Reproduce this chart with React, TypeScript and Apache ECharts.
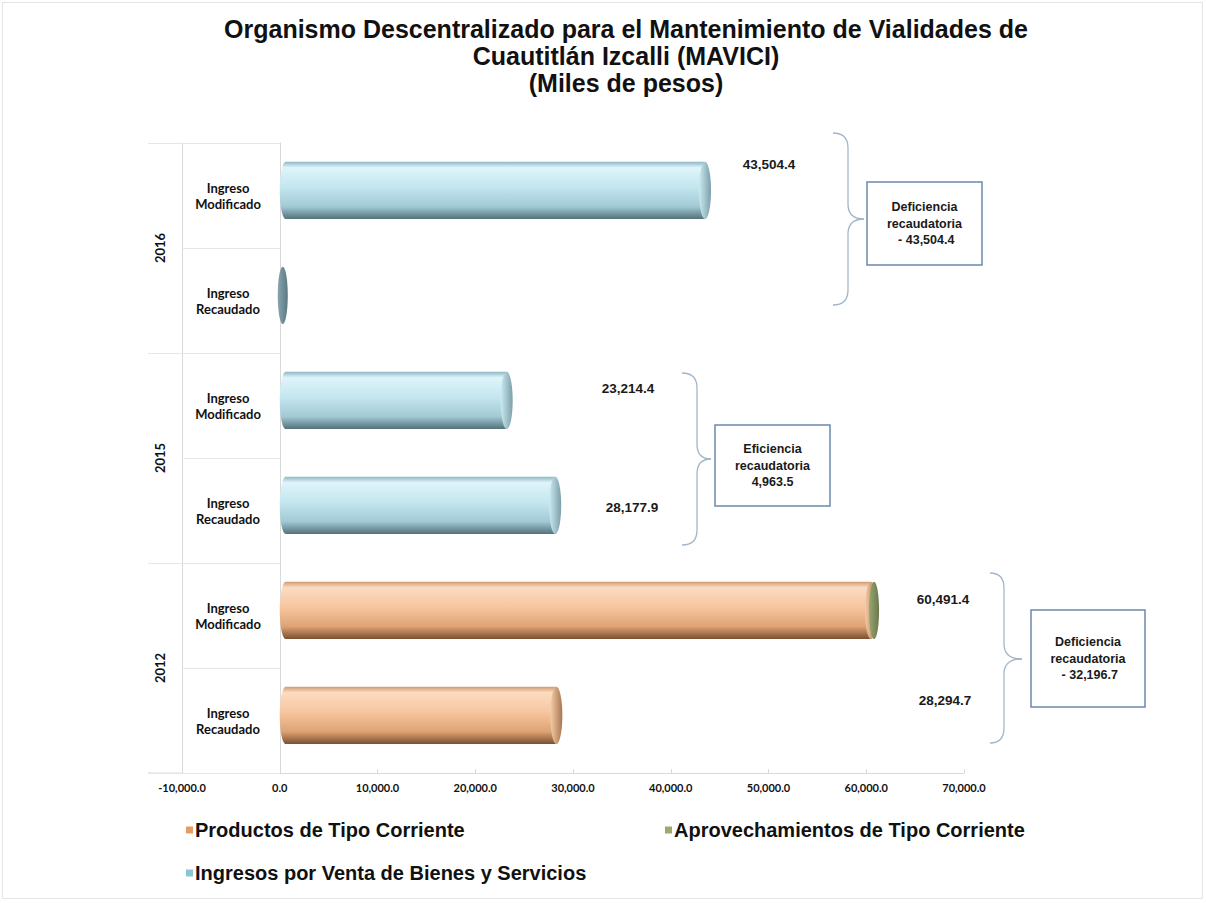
import React, { useEffect, useRef } from 'react';
import * as echarts from 'echarts';

// ---------- data ----------
const categories = [
  '2016 Ingreso Modificado',
  '2016 Ingreso Recaudado',
  '2015 Ingreso Modificado',
  '2015 Ingreso Recaudado',
  '2012 Ingreso Modificado',
  '2012 Ingreso Recaudado',
];
const conceptLabels = [
  'Ingreso\nModificado',
  'Ingreso\nRecaudado',
  'Ingreso\nModificado',
  'Ingreso\nRecaudado',
  'Ingreso\nModificado',
  'Ingreso\nRecaudado',
];
const years = ['2016', '2015', '2012'];
const seriesNames = [
  'Productos de Tipo Corriente',
  'Aprovechamientos de Tipo Corriente',
  'Ingresos por Venta de Bienes y Servicios',
];
const productos: (number | null)[] = [null, null, null, null, 60491.4, 28294.7];
const aprovechamientos: (number | null)[] = [null, null, null, null, 0, null];
const ingresos: (number | null)[] = [43504.4, 0, 23214.4, 28177.9, null, null];
const xMin = -10000;
const xMax = 70000;
const xInterval = 10000;
const titleText =
  'Organismo Descentralizado para el Mantenimiento de Vialidades de\nCuautitlán Izcalli (MAVICI)\n(Miles de pesos)';

// ---------- layout (annotations) ----------
const ARIAL = "'Liberation Sans', Arial, sans-serif";
const CALIBRI = "Lato, 'Open Sans', sans-serif";

const valueLabelPos = [
  { cat: 0, x: 769, y: 164 },
  { cat: 2, x: 628, y: 388 },
  { cat: 3, x: 632, y: 507 },
  { cat: 4, x: 943, y: 599 },
  { cat: 5, x: 945, y: 700 },
];
const braceLayout = [
  { year: 0, x0: 833, xv: 848, xt: 864, y0: 133, ym: 219, y1: 305 },
  { year: 1, x0: 682, xv: 697, xt: 711, y0: 373, ym: 459, y1: 545 },
  { year: 2, x0: 990, xv: 1004, xt: 1022, y0: 573, ym: 659, y1: 743 },
];
const boxLayout = [
  { year: 0, x: 867, y: 182, w: 115, h: 83 },
  { year: 1, x: 715, y: 425, w: 115, h: 81 },
  { year: 2, x: 1031, y: 610, w: 114, h: 97 },
];

const fmt = (v: number) =>
  v.toLocaleString('en-US', { minimumFractionDigits: 1, maximumFractionDigits: 1 });

const allSeries = [productos, aprovechamientos, ingresos];
const totals = categories.map((_, i) =>
  allSeries.reduce((s, arr) => s + (arr[i] ?? 0), 0)
);

const palettes = [
  {
    legend: '#E39E68',
    body: [[0, '#D39C72'], [0.1, '#FBDCC1'], [0.45, '#F6C59E'], [0.78, '#DEA373'], [1, '#7A4F30']],
    cap: ['#F4CBA8', '#A9774F'],
    disc: ['#F0C29C', '#B07A50'],
  },
  {
    legend: '#9CAA6C',
    body: [[0, '#9AA872'], [0.1, '#D6E0B8'], [0.45, '#B8C690'], [0.78, '#9AA870'], [1, '#5E6A40']],
    cap: ['#9DAA74', '#6C7A50'],
    disc: ['#98A66E', '#6A7850'],
  },
  {
    legend: '#8DC3D2',
    body: [[0, '#8FB9C5'], [0.1, '#DFF4FA'], [0.45, '#C3E6EF'], [0.78, '#A2CAD5'], [1, '#53717B']],
    cap: ['#CBEAF1', '#7C9FAA'],
    disc: ['#88A5AF', '#5C7882'],
  },
];

const stops = (arr: any[]) => arr.map(([o, c]) => ({ offset: o, color: c }));

function buildSeriesData(k: number) {
  const out: number[][] = [];
  categories.forEach((_, i) => {
    const v = allSeries[k][i];
    if (v === null || v === undefined) return;
    let start = 0;
    for (let j = 0; j < k; j++) start += allSeries[j][i] ?? 0;
    out.push([i, start, start + v]);
  });
  return out;
}

function makeRender(k: number) {
  const pal = palettes[k];
  return (params: any, api: any) => {
    const cat = api.value(0);
    const s = api.value(1);
    const e = api.value(2);
    const band = api.size([0, 1])[1];
    const h = band * 0.545;
    const ry = h / 2;
    const rx = 6;
    const c0 = api.coord([s, cat]);
    const c1 = api.coord([e, cat]);
    const cy = c0[1] - band * 0.048;
    if (e - s <= 0) {
      return {
        type: 'ellipse',
        shape: { cx: c0[0] + 3, cy, rx: 5, ry },
        style: { fill: new echarts.graphic.LinearGradient(0, 0, 1, 0, stops([[0, pal.disc[0]], [1, pal.disc[1]]])) },
      };
    }
    return {
      type: 'group',
      children: [
        {
          type: 'ellipse',
          shape: { cx: c0[0] + rx, cy, rx, ry },
          style: { fill: new echarts.graphic.LinearGradient(0, 0, 0, 1, stops(pal.body)) },
        },
        {
          type: 'rect',
          shape: { x: c0[0] + rx, y: cy - ry, width: c1[0] - c0[0] - rx, height: h },
          style: { fill: new echarts.graphic.LinearGradient(0, 0, 0, 1, stops(pal.body)) },
        },
        {
          type: 'ellipse',
          shape: { cx: c1[0], cy, rx, ry },
          style: {
            fill: new echarts.graphic.LinearGradient(0, 0, 1, 0, stops([[0, pal.cap[0]], [1, pal.cap[1]]])),
          },
        },
      ],
    };
  };
}

function braceElements(b: any) {
  const r = 15;
  const stroke = { stroke: '#A3B6C8', lineWidth: 1.3, fill: null };
  return [
    { type: 'bezierCurve', shape: { x1: b.x0, y1: b.y0, x2: b.xv, y2: b.y0 + r, cpx1: b.xv, cpy1: b.y0 }, style: stroke },
    { type: 'line', shape: { x1: b.xv, y1: b.y0 + r, x2: b.xv, y2: b.ym - r }, style: stroke },
    { type: 'bezierCurve', shape: { x1: b.xv, y1: b.ym - r, x2: b.xt, y2: b.ym, cpx1: b.xv, cpy1: b.ym }, style: stroke },
    { type: 'bezierCurve', shape: { x1: b.xt, y1: b.ym, x2: b.xv, y2: b.ym + r, cpx1: b.xv, cpy1: b.ym }, style: stroke },
    { type: 'line', shape: { x1: b.xv, y1: b.ym + r, x2: b.xv, y2: b.y1 - r }, style: stroke },
    { type: 'bezierCurve', shape: { x1: b.xv, y1: b.y1 - r, x2: b.x0, y2: b.y1, cpx1: b.xv, cpy1: b.y1 }, style: stroke },
  ];
}

function boxText(yearIdx: number) {
  const mod = totals[yearIdx * 2];
  const rec = totals[yearIdx * 2 + 1];
  const diff = rec - mod;
  if (diff < 0) return 'Deficiencia\nrecaudatoria\n - ' + fmt(-diff);
  return 'Eficiencia\nrecaudatoria\n' + fmt(diff);
}

export default function App() {
  const ref = useRef<HTMLDivElement>(null);
  useEffect(() => {
    document.body.style.margin = '0';
    const chart = echarts.init(ref.current!, null, { renderer: 'svg' });

    const graphics: any[] = [
      {
        type: 'rect',
        shape: { x: 2.5, y: 2.5, width: 1200, height: 896 },
        style: { fill: null, stroke: '#E4E4E4', lineWidth: 1 },
        silent: true,
      },
      {
        type: 'line',
        shape: { x1: 148, y1: 773, x2: 182, y2: 773 },
        style: { stroke: '#D9D9D9', lineWidth: 1 },
      },
      {
        type: 'text',
        x: 626,
        y: 15,
        style: {
          text: titleText,
          align: 'center',
          verticalAlign: 'top',
          font: `bold 25px ${ARIAL}`,
          lineHeight: 27,
          fill: '#111111',
        },
      },
    ];
    valueLabelPos.forEach((p) => {
      graphics.push({
        type: 'text',
        x: p.x,
        y: p.y,
        style: {
          text: fmt(totals[p.cat]),
          align: 'center',
          verticalAlign: 'middle',
          font: `bold 13.5px ${ARIAL}`,
          fill: '#1A1A1A',
        },
      });
    });
    braceLayout.forEach((b) => graphics.push(...braceElements(b)));
    boxLayout.forEach((b) => {
      graphics.push({
        type: 'rect',
        shape: { x: b.x, y: b.y, width: b.w, height: b.h },
        style: { fill: '#FFFFFF', stroke: '#6A89AA', lineWidth: 1.5 },
      });
      graphics.push({
        type: 'text',
        x: b.x + b.w / 2,
        y: b.y + b.h / 2,
        style: {
          text: boxText(b.year),
          align: 'center',
          verticalAlign: 'middle',
          font: `bold 12.5px ${ARIAL}`,
          lineHeight: 16.5,
          fill: '#1A1A1A',
        },
      });
    });

    const option: any = {
      animation: false,
      backgroundColor: '#FFFFFF',
      legend: [
        { data: [seriesNames[0]], left: 186, top: 820 },
        { data: [seriesNames[1]], left: 665, top: 820 },
        { data: [seriesNames[2]], left: 186, top: 863 },
      ].map((l) => ({
        ...l,
        padding: 0,
        icon: 'rect',
        itemWidth: 7,
        itemHeight: 7,
        selectedMode: false,
        textStyle: { fontFamily: ARIAL, fontWeight: 'bold', fontSize: 20, color: '#111111', padding: [0, 0, 0, -3] },
      })),
      grid: { left: 182, right: 242, top: 143, bottom: 130, containLabel: false },
      xAxis: {
        type: 'value',
        min: xMin,
        max: xMax,
        interval: xInterval,
        axisLine: { show: true, lineStyle: { color: '#D9D9D9' } },
        axisTick: { show: true, inside: true, length: 4, lineStyle: { color: '#D9D9D9' } },
        splitLine: { show: false },
        axisLabel: {
          formatter: (v: number) => fmt(v),
          fontFamily: CALIBRI,
          fontWeight: 'bold',
          fontSize: 11,
          color: '#111111',
          margin: 9,
        },
      },
      yAxis: [
        {
          type: 'category',
          data: categories,
          inverse: true,
          position: 'left',
          axisLine: { show: true, onZero: true, lineStyle: { color: '#D9D9D9' } },
          axisTick: { show: false },
          axisLabel: {
            formatter: (_: string, i: number) => conceptLabels[i],
            align: 'center',
            margin: -46,
            fontFamily: CALIBRI,
            fontWeight: 'bold',
            fontSize: 13,
            lineHeight: 16,
            color: '#111111',
          },
        },
        {
          type: 'category',
          data: years,
          inverse: true,
          position: 'left',
          axisLine: { show: true, onZero: false, lineStyle: { color: '#D9D9D9' } },
          axisTick: { show: true, length: 34, lineStyle: { color: '#E6E6E6' } },
          axisLabel: {
            rotate: 90,
            margin: 16,
            fontFamily: CALIBRI,
            fontWeight: 'bold',
            fontSize: 13,
            color: '#111111',
          },
        },
        {
          type: 'category',
          data: categories,
          inverse: true,
          position: 'left',
          axisLine: { show: false, onZero: false },
          axisTick: { show: true, inside: true, length: 98, lineStyle: { color: '#E6E6E6' } },
          axisLabel: { show: false },
        },
      ],
      series: seriesNames.map((name, k) => ({
        type: 'custom',
        name,
        xAxisIndex: 0,
        yAxisIndex: 0,
        itemStyle: { color: palettes[k].legend },
        encode: { x: [1, 2], y: 0 },
        data: buildSeriesData(k),
        renderItem: makeRender(k),
      })),
      graphic: graphics,
    };
    chart.setOption(option);
    return () => chart.dispose();
  }, []);
  return <div ref={ref} style={{ width: 1206, height: 903 }} />;
}
